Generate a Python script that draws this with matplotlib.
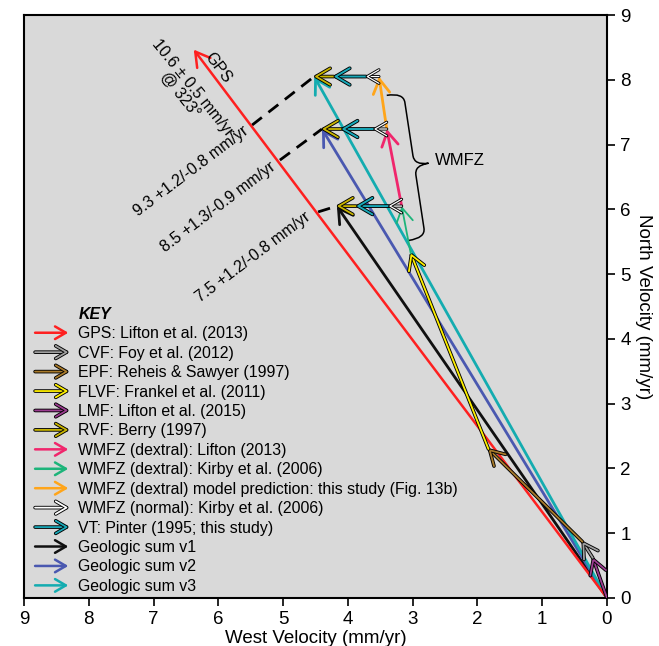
import numpy as np
import matplotlib
matplotlib.use('Agg')
import matplotlib.pyplot as plt
import matplotlib.patheffects as pe
from matplotlib.patches import FancyArrowPatch, PathPatch
from matplotlib.legend_handler import HandlerBase
from matplotlib.lines import Line2D
from matplotlib.path import Path

plt.rcParams['font.family'] = ['Liberation Sans', 'DejaVu Sans']

# velocity vectors (west, north) in mm/yr
gps_rate = 10.6
gps_azimuth = 323
lmf = (0.22, 0.62)
cvf = (0.16, 0.25)
epf = (1.45, 1.43)
flvf = (1.20, 3.02)
wmfz_kirby = (0.14, 0.73)
wmfz_lifton = (0.23, 1.19)
wmfz_model = (0.12, 0.81)
wmfz_normal = (0.20, 0.0)
vt = (0.50, 0.0)
rvf = (0.30, 0.0)

sum_labels = ['7.5 +1.2/-0.8 mm/yr', '8.5 +1.3/-0.9 mm/yr', '9.3 +1.2/-0.8 mm/yr']
sum_label_pos = [(5.46, 5.26), (6.00, 6.03), (6.42, 6.59)]
dash_start = [(4.46, 5.96), (5.05, 6.76), (5.48, 7.30)]

key_labels = ['GPS: Lifton et al. (2013)', 'CVF: Foy et al. (2012)',
              'EPF: Reheis & Sawyer (1997)', 'FLVF: Frankel et al. (2011)',
              'LMF: Lifton et al. (2015)', 'RVF: Berry (1997)',
              'WMFZ (dextral): Lifton (2013)', 'WMFZ (dextral): Kirby et al. (2006)',
              'WMFZ (dextral) model prediction: this study (Fig. 13b)',
              'WMFZ (normal): Kirby et al. (2006)', 'VT: Pinter (1995; this study)',
              'Geologic sum v1', 'Geologic sum v2', 'Geologic sum v3']
key_colors = ['#fe2020', '#a0a0a0', '#a87a2a', '#fff000', '#9c3c90', '#c8b400',
              '#f0266c', '#1db47a', '#ffa51a', '#ffffff', '#18a8b8',
              '#101010', '#4a58b0', '#14acb0']
key_outline = [None, 'k', 'k', 'k', 'k', 'k', None, None, None, 'k', 'k',
               None, None, None]

HEAD = '->,head_length=0.6,head_width=0.35'


def effects(outline, lw):
    if outline is None:
        return None
    return [pe.Stroke(linewidth=lw + 1.3, foreground=outline), pe.Normal()]


def arrow(ax, start, end, i, lw=1.8, z=3, ms=17):
    a = FancyArrowPatch(start, end, arrowstyle=HEAD, mutation_scale=ms,
                        color=key_colors[i], lw=lw, shrinkA=0, shrinkB=0,
                        path_effects=effects(key_outline[i], lw), zorder=z)
    ax.add_patch(a)


class ArrowHandler(HandlerBase):
    def create_artists(self, legend, orig_handle, xdescent, ydescent,
                       width, height, fontsize, trans):
        y = height / 2 - ydescent
        a = FancyArrowPatch((-xdescent, y), (-xdescent + width, y),
                            arrowstyle=orig_handle.get_arrowstyle(),
                            mutation_scale=orig_handle.get_mutation_scale(),
                            color=orig_handle.get_edgecolor(),
                            lw=orig_handle.get_linewidth(), shrinkA=0, shrinkB=0,
                            path_effects=orig_handle.get_path_effects(),
                            transform=trans)
        return [a]


fig = plt.figure(figsize=(6.59, 6.46), dpi=100)
ax = fig.add_axes([24 / 659, 48 / 646, 583 / 659, 583 / 646])
ax.set_facecolor('#d9d9d9')

# chain of fault vectors
chain = [lmf, cvf, epf, flvf, wmfz_kirby]
chain_idx = [4, 1, 2, 3, 7]
pts = np.vstack([[0, 0], np.cumsum(chain, axis=0)])
tops = [pts[-1], pts[-1] + wmfz_lifton, pts[-1] + wmfz_lifton + wmfz_model]

# geologic sums
sums = [t + np.array(wmfz_normal) + vt + rvf for t in tops]
for k, s in enumerate(sums):
    arrow(ax, (0, 0), s, 11 + k, lw=2.0, z=2)

# GPS
gps = (-gps_rate * np.sin(np.radians(gps_azimuth)), gps_rate * np.cos(np.radians(gps_azimuth)))
arrow(ax, (0, 0), gps, 0, lw=1.8, z=2)

for k in range(len(chain)):
    arrow(ax, pts[k], pts[k + 1], chain_idx[k], lw=1.3, z=4)
arrow(ax, tops[0], tops[1], 6, lw=2.0, z=4)
arrow(ax, tops[1], tops[2], 8, lw=2.0, z=4)

for t in tops:
    p1 = t + np.array(wmfz_normal)
    p2 = p1 + vt
    p3 = p2 + rvf
    arrow(ax, p2, p3, 5, lw=1.3, z=5)
    arrow(ax, p1, p2, 10, lw=1.4, z=6)
    arrow(ax, t, p1, 9, lw=0.9, z=7, ms=14)

# dashed leaders and labels for the sums
for k, s in enumerate(sums):
    ax.plot([dash_start[k][0], s[0]], [dash_start[k][1], s[1]], color='k',
            lw=2.0, ls=(0, (4.5, 3)), zorder=1.5)
    ax.text(sum_label_pos[k][0], sum_label_pos[k][1], sum_labels[k], rotation=37,
            rotation_mode='anchor', ha='center', va='center', fontsize=11.5)

ax.text(6.00, 8.18, 'GPS', rotation=-53, rotation_mode='anchor', ha='center',
        va='center', fontsize=11.5)
ax.text(6.40, 7.88, '10.6 ± 0.5 mm/yr', rotation=-51, rotation_mode='anchor',
        ha='center', va='center', fontsize=11.5)
ax.text(6.59, 7.77, '@ 323°', rotation=-51, rotation_mode='anchor',
        ha='center', va='center', fontsize=11.5)

# WMFZ brace
p0 = np.array([3.40, 7.76])
p1 = np.array([3.06, 5.52])
L = np.linalg.norm(p1 - p0)
d = (p1 - p0) / L
n = np.array([d[1], -d[0]])
if n[0] > 0:
    n = -n
sh, dep, tip = 0.15, 0.26, 0.48
uv = [(0, 0), (0, dep), (sh, dep), (L / 2 - sh, dep), (L / 2, dep), (L / 2, tip),
      (L / 2, dep), (L / 2 + sh, dep), (L - sh, dep), (L, dep), (L, 0)]
codes = [Path.MOVETO, Path.CURVE3, Path.CURVE3, Path.LINETO, Path.CURVE3, Path.CURVE3,
         Path.CURVE3, Path.CURVE3, Path.LINETO, Path.CURVE3, Path.CURVE3]
verts = [p0 + u * d + v * n for u, v in uv]
ax.add_patch(PathPatch(Path(verts, codes), fc='none', ec='k', lw=1.1, zorder=3))
ax.text(2.66, 6.76, 'WMFZ', ha='left', va='center', fontsize=12)

# key
proxies = [Line2D([], [], visible=False)]
for i in range(len(key_labels)):
    lw = 1.3 if key_outline[i] else 1.8
    proxies.append(FancyArrowPatch((0, 0), (1, 1), arrowstyle=HEAD, mutation_scale=13,
                                   color=key_colors[i], lw=lw,
                                   path_effects=effects(key_outline[i], lw)))
leg = ax.legend(proxies, ['KEY'] + key_labels, loc='lower left', frameon=False,
                fontsize=11.4, handlelength=2.1, handletextpad=0.63, labelspacing=0.28,
                borderaxespad=0, borderpad=0, bbox_to_anchor=(0.019, 0.007),
                handler_map={FancyArrowPatch: ArrowHandler()})
leg.get_texts()[0].set_fontweight('bold')
leg.get_texts()[0].set_fontstyle('italic')

ax.set_xlim(9, 0)
ax.set_ylim(0, 9)
ax.set_xticks(range(10))
ax.set_yticks(range(10))
ax.yaxis.tick_right()
ax.yaxis.set_label_position('right')
ax.tick_params(direction='out', length=6, width=1.2, labelsize=13.5)
for sp in ax.spines.values():
    sp.set_linewidth(1.5)
ax.set_xlabel('West Velocity (mm/yr)', fontsize=13.5, labelpad=1)
ax.set_ylabel('North Velocity (mm/yr)', fontsize=13.5, rotation=270, labelpad=15)

fig.savefig('out.png', dpi=100)
